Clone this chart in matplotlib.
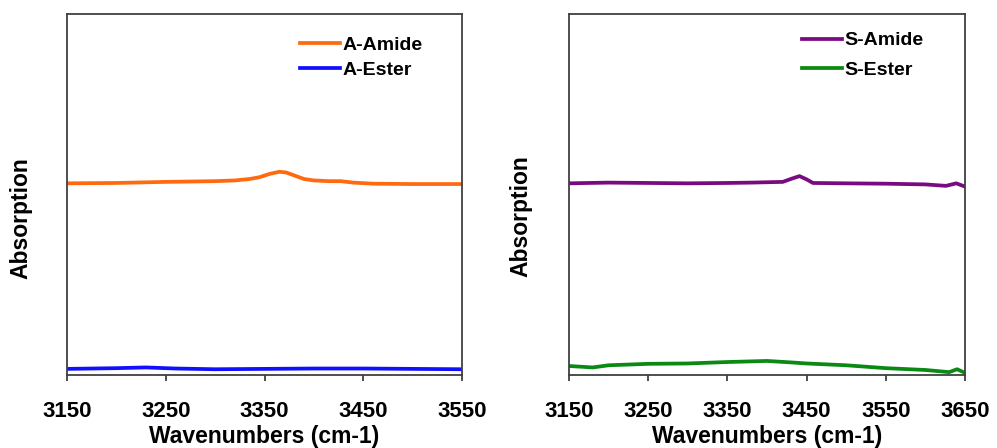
import numpy as np
import matplotlib
matplotlib.use("Agg")
import matplotlib.pyplot as plt

plt.rcParams['font.family'] = ['Liberation Sans', 'DejaVu Sans']
plt.rcParams['font.weight'] = 'bold'

# A-series spectra (wavenumber, absorption in arbitrary offset units)
a_amide_wn = [3150, 3200, 3250, 3300, 3320, 3335, 3345, 3355, 3365, 3372,
              3380, 3390, 3400, 3415, 3427, 3440, 3460, 3500, 3550]
a_amide_abs = [0.531, 0.532, 0.535, 0.537, 0.539, 0.543, 0.548, 0.557, 0.563, 0.561,
               0.553, 0.543, 0.539, 0.537, 0.537, 0.533, 0.530, 0.529, 0.529]
a_ester_wn = [3150, 3200, 3230, 3260, 3300, 3350, 3400, 3450, 3500, 3550]
a_ester_abs = [0.017, 0.019, 0.021, 0.018, 0.016, 0.017, 0.018, 0.018, 0.017, 0.016]

# S-series spectra
s_amide_wn = [3150, 3200, 3250, 3300, 3350, 3380, 3400, 3420, 3430, 3441,
              3450, 3458, 3500, 3550, 3600, 3626, 3639, 3650]
s_amide_abs = [0.531, 0.533, 0.532, 0.531, 0.532, 0.533, 0.534, 0.535, 0.543, 0.551,
               0.542, 0.532, 0.531, 0.530, 0.528, 0.524, 0.531, 0.522]
s_ester_wn = [3150, 3180, 3200, 3250, 3300, 3350, 3400, 3430, 3450, 3500,
              3550, 3600, 3630, 3640, 3650]
s_ester_abs = [0.025, 0.021, 0.027, 0.031, 0.032, 0.036, 0.039, 0.035, 0.032, 0.027,
               0.019, 0.014, 0.008, 0.016, 0.006]

left_ticks = [3150, 3250, 3350, 3450, 3550]
right_ticks = [3150, 3250, 3350, 3450, 3550, 3650]

fig = plt.figure(figsize=(9.97, 4.48), dpi=100)
ax1 = fig.add_axes([0.0672, 0.1629, 0.3962, 0.8058])
ax2 = fig.add_axes([0.5707, 0.1629, 0.3972, 0.8058])


def style(ax, ticks, xmax, label_xy, legend_xy, spacing):
    ax.set_xlim(3150, xmax)
    ax.set_ylim(0, 1)
    ax.set_xticks(ticks)
    ax.set_yticks([])
    ax.tick_params(axis='x', direction='out', length=4.5, width=1.3,
                   color='#404040', labelsize=16, pad=14)
    for sp in ax.spines.values():
        sp.set_color('#404040')
        sp.set_linewidth(1.3)
    ax.set_xlabel('Wavenumbers (cm-1)', fontsize=16.5, fontweight='bold', labelpad=2.5)
    ax.set_ylabel('Absorption', fontsize=16.5, fontweight='bold')
    ax.yaxis.set_label_coords(*label_xy)
    leg = ax.legend(loc='upper left', bbox_to_anchor=legend_xy, frameon=False,
                    fontsize=14, handlelength=2.05, handletextpad=0.15,
                    borderpad=0, borderaxespad=0, labelspacing=spacing)
    for t in leg.get_texts():
        t.set_fontweight('bold')


ax1.plot(a_amide_wn, a_amide_abs, color='#FF6A10', lw=2.7, label='A-Amide')
ax1.plot(a_ester_wn, a_ester_abs, color='#1010FF', lw=2.7, label='A-Ester')
style(ax1, left_ticks, 3550, (-0.0886, 0.435), (0.59, 0.939), 0.41)

ax2.plot(s_amide_wn, s_amide_abs, color='#7A0A80', lw=2.7, label='S-Amide')
ax2.plot(s_ester_wn, s_ester_abs, color='#0A8A12', lw=2.7, label='S-Ester')
style(ax2, right_ticks, 3650, (-0.0934, 0.441), (0.588, 0.951), 0.61)

fig.savefig('out.png', dpi=100)
